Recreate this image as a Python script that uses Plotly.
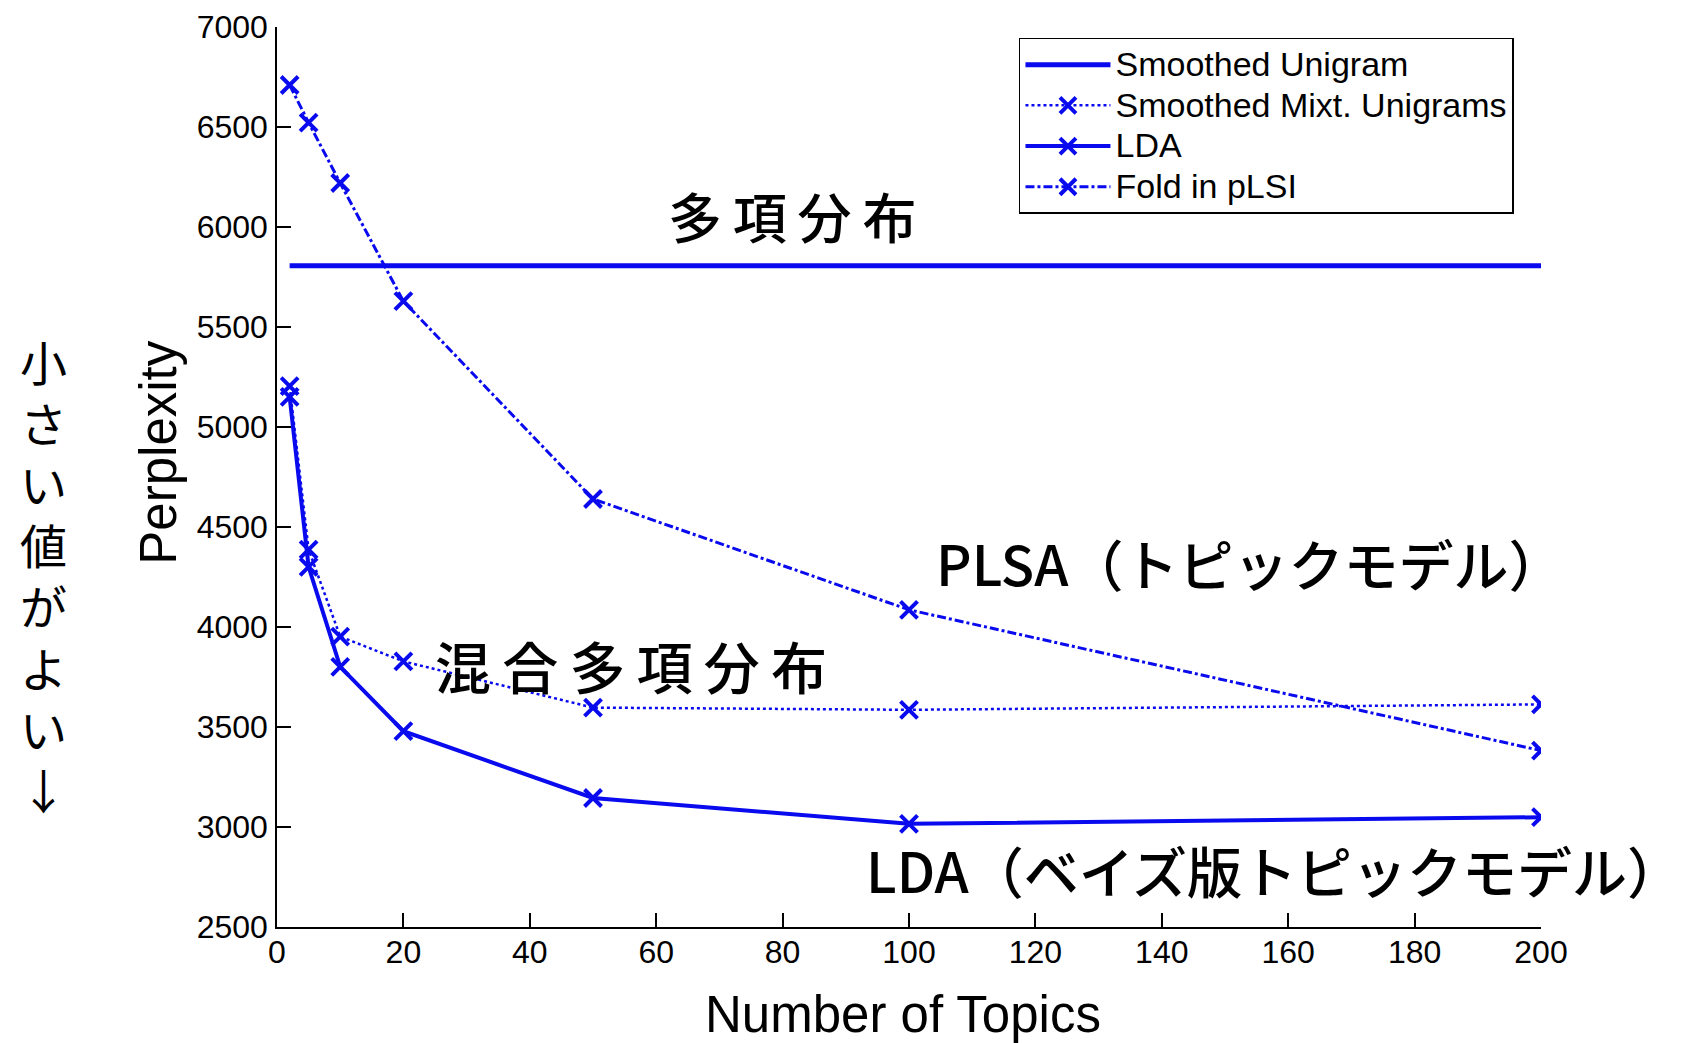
import plotly.graph_objects as go

topics = [2, 5, 10, 20, 50, 100, 200]
unigram_x = [2, 200]
unigram_y = [5806, 5806]
mixt_unigrams = [5204, 4387, 3952, 3828, 3597, 3586, 3613]
lda = [5151, 4301, 3801, 3479, 3145, 3016, 3049]
fold_in_plsi = [6710, 6522, 6220, 5629, 4640, 4086, 3382]

series_names = ["Smoothed Unigram", "Smoothed Mixt. Unigrams", "LDA", "Fold in pLSI"]
x_ticks = [0, 20, 40, 60, 80, 100, 120, 140, 160, 180, 200]
y_ticks = [2500, 3000, 3500, 4000, 4500, 5000, 5500, 6000, 6500, 7000]

BLUE = "#0a0aee"
marker = dict(symbol="x-thin", size=17, line=dict(width=4, color=BLUE), color=BLUE)


def legend_label(s):
    return '<span style="font-size:34px">' + s + '</span>'


fig = go.Figure()
fig.add_trace(go.Scatter(x=unigram_x, y=unigram_y, mode="lines", name=legend_label(series_names[0]),
                         line=dict(color=BLUE, width=5)))
fig.add_trace(go.Scatter(x=topics, y=mixt_unigrams, mode="lines+markers", name=legend_label(series_names[1]),
                         line=dict(color=BLUE, width=2.5, dash="dot"), marker=marker))
fig.add_trace(go.Scatter(x=topics, y=lda, mode="lines+markers", name=legend_label(series_names[2]),
                         line=dict(color=BLUE, width=4), marker=marker))
fig.add_trace(go.Scatter(x=topics, y=fold_in_plsi, mode="lines+markers", name=legend_label(series_names[3]),
                         line=dict(color=BLUE, width=3, dash="dashdot"), marker=marker))

JP = "Noto Sans CJK JP"
ann_font = dict(family=JP, size=54, color="black", weight=500)
T = "\u2009"
fig.add_annotation(x=81.5, y=6059, text=T.join("多項分布"), showarrow=False, font=ann_font)
fig.add_annotation(x=154, y=4323, text="PLSA（トピックモデル）", showarrow=False,
                   font=dict(family=JP, size=55, color="black", weight=500))
fig.add_annotation(x=56, y=3812, text=T.join("混合多項分布"), showarrow=False,
                   font=dict(family=JP, size=56, color="black", weight=500))
fig.add_annotation(xref="paper", x=1.113, xanchor="right", y=2790, yanchor="middle",
                   text="LDA（ベイズ版トピックモデル）", showarrow=False,
                   font=dict(family=JP, size=55, color="black", weight=500))

# vertical caption on the left, one glyph per line
caption = "小さい値がよい↓"
fig.add_annotation(xref="paper", yref="paper", x=-0.185, xanchor="center",
                   y=0.392, yanchor="middle", text="<br>".join(caption), showarrow=False,
                   font=dict(family=JP, size=47, color="black"))

title_font = dict(family="Liberation Sans, Arial", size=51, color="black")
fig.add_annotation(xref="paper", yref="paper", x=-0.0934, y=0.527, xanchor="center", yanchor="middle",
                   text="Perplexity", textangle=-90, showarrow=False, font=title_font)
fig.add_annotation(xref="paper", yref="paper", x=0.495, y=-0.097, xanchor="center", yanchor="middle",
                   text="Number of Topics", showarrow=False, font=title_font)

axis_font = dict(family="Liberation Sans, Arial", size=32, color="black")
fig.update_layout(
    width=1678, height=1035,
    margin=dict(l=269, r=145, t=19, b=116, autoexpand=False),
    paper_bgcolor="white", plot_bgcolor="white",
    showlegend=True,
    legend=dict(x=0.587, y=0.988, xanchor="left", yanchor="top",
                bordercolor="black", borderwidth=1.5, bgcolor="white",
                font=dict(family="Liberation Sans, Arial", size=29, color="black"),
                tracegroupgap=0, itemwidth=85),
    xaxis=dict(range=[0, 200], tickvals=x_ticks, ticks="inside", ticklen=14, tickwidth=1.5,
               tickcolor="black", showline=True, linecolor="black", linewidth=1.5, automargin=False,
               showgrid=False, zeroline=False, tickfont=axis_font, ticklabelstandoff=-4),
    yaxis=dict(range=[2500, 7000], tickvals=y_ticks, ticks="inside", ticklen=14, tickwidth=1.5,
               tickcolor="black", showline=True, linecolor="black", linewidth=1.5, automargin=False,
               showgrid=False, zeroline=False, tickfont=axis_font, ticklabelstandoff=1),
)

fig.write_html("out.html")
